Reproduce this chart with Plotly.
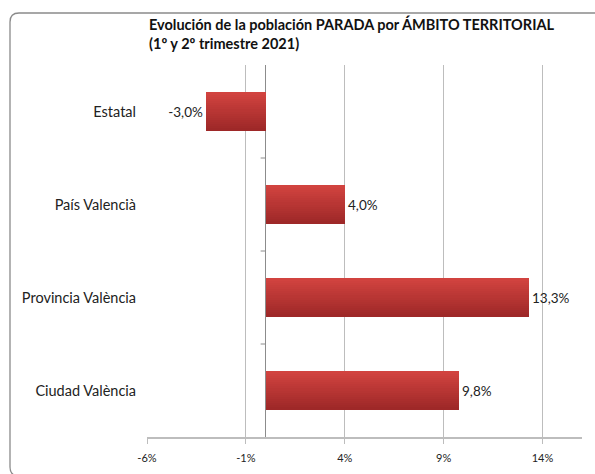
import plotly.graph_objects as go

# Data: change in unemployed population, 1st vs 2nd quarter 2021
categories = ["Ciudad València", "Provincia València", "País Valencià", "Estatal"]
values = [9.8, 13.3, 4.0, -3.0]

tick_values = [-6, -1, 4, 9, 14]
tick_labels = ["-6%", "-1%", "4%", "9%", "14%"]
x_range = [-6, 16]

W, H = 595, 474
L, R, T, B = 147, 13, 65, 37
FONT = "Lato"

bar_width = 0.41
n_slices = 18
top_rgb = (209, 67, 63)
bot_rgb = (158, 40, 40)

fig = go.Figure()

# Vertical gradient on each bar built from stacked thin slices
slice_w = bar_width / n_slices
for k in range(n_slices):
    t = k / (n_slices - 1)
    c = tuple(round(bot_rgb[i] + (top_rgb[i] - bot_rgb[i]) * t) for i in range(3))
    fig.add_trace(go.Bar(
        y=categories, x=values, orientation="h",
        width=slice_w, offset=-bar_width / 2 + k * slice_w,
        marker=dict(color=f"rgb{c}", line=dict(width=0)),
        hoverinfo="skip", showlegend=False,
    ))

# Value labels
fig.add_trace(go.Bar(
    y=categories, x=values, orientation="h", width=bar_width,
    marker=dict(color="rgba(0,0,0,0)", line=dict(width=0)),
    text=values, texttemplate="%{x:.1f}%", textposition="outside",
    textfont=dict(family=FONT, size=13.5, color="#222222"),
    cliponaxis=False, showlegend=False,
    hovertemplate="%{y}: %{x:.1f}%<extra></extra>",
))

# Tick marks on the zero axis at category boundaries
shapes = []
for i in range(len(categories) - 1):
    shapes.append(dict(
        type="line", xref="x", yref="y", xsizemode="pixel", xanchor=0,
        x0=-5, x1=0, y0=i + 0.5, y1=i + 0.5,
        line=dict(color="#8c8c8c", width=1),
    ))

# Rounded outer frame of the chart area
def px(x):
    return (x - L) / (W - L - R)

def py(y):
    return (H - B - y) / (H - T - B)

x0, x1, y0, y1, r = 10, 610, 13, 476, 9
path = (
    f"M {px(x0)},{py(y1 - r)} L {px(x0)},{py(y0 + r)} "
    f"Q {px(x0)},{py(y0)} {px(x0 + r)},{py(y0)} L {px(x1)},{py(y0)} "
    f"M {px(x0)},{py(y1 - r)} Q {px(x0)},{py(y1)} {px(x0 + r)},{py(y1)} L {px(x1)},{py(y1)}"
)
shapes.append(dict(type="path", xref="paper", yref="paper", path=path,
                   line=dict(color="#8a8a8a", width=1.3)))

fig.update_layout(
    width=W, height=H,
    margin=dict(l=L, r=R, t=T, b=B, pad=0),
    paper_bgcolor="white", plot_bgcolor="white",
    barmode="overlay", bargap=0,
    separators=",.",
    font=dict(family=FONT, color="#222222"),
    shapes=shapes,
    annotations=[dict(
        text="<b>Evolución de la población PARADA por ÁMBITO TERRITORIAL<br>(1º y 2º trimestre 2021)</b>",
        xref="paper", yref="paper", x=px(147), y=py(13),
        xanchor="left", yanchor="top", align="left", showarrow=False,
        font=dict(family=FONT, size=14.5, color="#111111"),
    )],
    xaxis=dict(
        range=x_range, tickvals=tick_values, ticktext=tick_labels,
        showgrid=True, gridcolor="#bdbdbd", gridwidth=1,
        zeroline=True, zerolinecolor="#8c8c8c", zerolinewidth=1,
        showline=True, linecolor="#bdbdbd", linewidth=1.5,
        ticks="outside", ticklen=5, tickcolor="#bdbdbd",
        ticklabelstandoff=5, automargin=False,
        tickfont=dict(family=FONT, size=11, color="#222222"),
        fixedrange=True,
    ),
    yaxis=dict(
        type="category", categoryorder="array", categoryarray=categories,
        range=[-0.5, len(categories) - 0.5],
        showgrid=False, zeroline=False, showline=False, ticks="",
        ticklabelstandoff=10, automargin=False,
        tickfont=dict(family=FONT, size=14.5, color="#222222"),
        fixedrange=True,
    ),
)

fig.write_html("out.html")
